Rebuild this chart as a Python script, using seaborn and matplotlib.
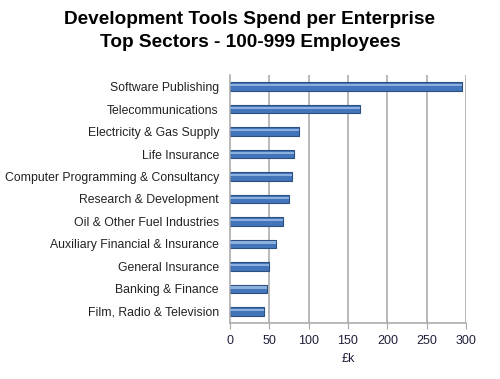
import matplotlib
matplotlib.use("Agg")
import matplotlib.pyplot as plt
import seaborn as sns
import pandas as pd

sectors = ["Software Publishing", "Telecommunications", "Electricity & Gas Supply",
           "Life Insurance", "Computer Programming & Consultancy", "Research & Development",
           "Oil & Other Fuel Industries", "Auxiliary Financial & Insurance",
           "General Insurance", "Banking & Finance", "Film, Radio & Television"]
spend = [295, 165, 88, 81, 79, 75, 68, 58.5, 50, 47, 43.5]
x_ticks = [0, 50, 100, 150, 200, 250, 300]

df = pd.DataFrame({"sector": sectors, "spend": spend})

sns.set_style("white")
plt.rcParams["font.family"] = ["Liberation Sans", "DejaVu Sans"]

fig = plt.figure(figsize=(5, 3.79), dpi=100)
ax = fig.add_axes([0.46, 0.149, 0.472, 0.652])

for x in x_ticks[1:]:
    ax.axvline(x, color="#a6a6a6", lw=1.1, zorder=0)

# cylinder-ish bars: dark body plus lighter highlight
sns.barplot(data=df, x="spend", y="sector", color="#4275ba", width=0.38,
            edgecolor="#2c4f80", linewidth=0.8, saturation=1, ax=ax, zorder=2)
sns.barplot(data=df, x="spend", y="sector", color="#8bb0e0", width=0.1,
            linewidth=0, saturation=1, ax=ax, zorder=3)
for p in ax.patches[len(sectors):]:
    p.set_y(p.get_y() - 0.06)

ax.set_xlim(0, 300)
ax.set_ylim(len(sectors) - 0.5, -0.5)
ax.set_xticks(x_ticks)
ax.set_xticklabels([str(t) for t in x_ticks], fontsize=9, color="#1f1f3a")
ax.tick_params(axis="y", labelsize=8.8, colors="#222222", length=0, pad=8)
ax.tick_params(axis="x", length=4, color="#a6a6a6", bottom=True, pad=5)
ax.set_xlabel("£k", fontsize=9, color="#1f1f3a", labelpad=4.5)
ax.set_ylabel("")

for s in ["top", "right"]:
    ax.spines[s].set_visible(False)
for s in ["left", "bottom"]:
    ax.spines[s].set_color("#a6a6a6")
    ax.spines[s].set_linewidth(1.1)

fig.text(0.5, 0.972, "Development Tools Spend per Enterprise\nTop Sectors - 100-999 Employees",
         ha="center", va="top", fontsize=13.7, fontweight="bold", color="black",
         linespacing=1.5)

fig.savefig("out.png", dpi=100)
